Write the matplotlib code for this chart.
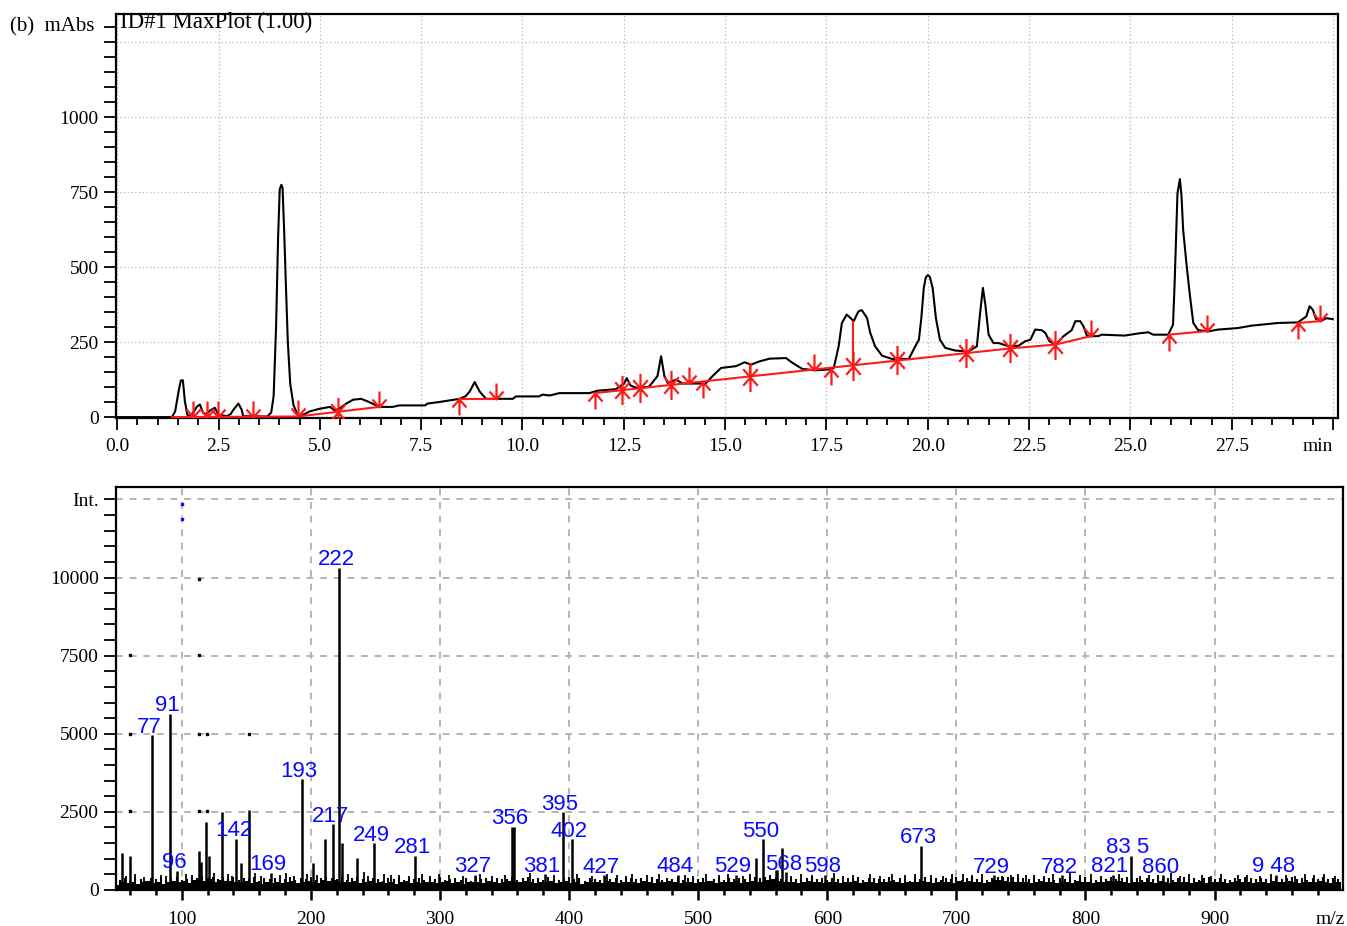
import numpy as np
import matplotlib
matplotlib.use("Agg")
import matplotlib.pyplot as plt
from matplotlib.path import Path
from matplotlib.ticker import FixedLocator, MultipleLocator

# ---- chromatogram (MaxPlot) ----
trace_t = [0.0, 1.35, 1.43, 1.52, 1.57, 1.62, 1.67, 1.73, 1.80, 1.90, 1.96, 2.04, 2.12,
           2.20, 2.29, 2.41, 2.50, 2.70, 2.80, 2.87, 2.99, 3.07, 3.11, 3.70, 3.80, 3.86,
           3.92, 3.97, 4.01, 4.05, 4.08, 4.12, 4.16, 4.21, 4.27, 4.35, 4.45, 4.55, 4.75,
           5.00, 5.25, 5.37, 5.50, 5.65, 5.82, 6.02, 6.22, 6.47, 6.80, 6.96, 7.60, 7.65,
           7.93, 8.45, 8.60, 8.70, 8.82, 8.94, 9.10, 9.76, 9.84, 10.40, 10.50, 10.67,
           10.91, 11.65, 11.85, 12.30, 12.51, 12.57, 12.67, 12.80, 13.12, 13.33, 13.42,
           13.50, 13.58, 13.79, 13.95, 14.52, 14.69, 14.90, 15.27, 15.48, 15.64, 15.85,
           16.10, 16.50, 16.66, 16.90, 17.23, 17.56, 17.68, 17.80, 17.88, 18.00, 18.09,
           18.17, 18.29, 18.37, 18.50, 18.58, 18.70, 18.87, 19.12, 19.53, 19.69, 19.78,
           19.84, 19.90, 19.95, 20.00, 20.05, 20.12, 20.20, 20.30, 20.43, 20.68, 21.00,
           21.21, 21.29, 21.36, 21.42, 21.50, 21.62, 21.75, 22.00, 22.24, 22.40, 22.53,
           22.65, 22.81, 22.90, 23.00, 23.15, 23.35, 23.55, 23.64, 23.76, 23.84, 23.93,
           24.20, 24.29, 24.86, 25.19, 25.44, 25.56, 25.93, 26.05, 26.09, 26.16, 26.22,
           26.26, 26.30, 26.38, 26.46, 26.55, 26.67, 26.92, 27.16, 27.65, 27.98, 28.64,
           29.13, 29.34, 29.42, 29.50, 29.58, 29.71, 29.83, 29.99]
trace_v = [0, 0, 19, 90, 122, 123, 53, 8, 2, 20, 34, 42, 14,
           10, 22, 31, 8, 3, 10, 25, 45, 25, 3, 2, 15, 70,
           300, 600, 760, 775, 765, 620, 450, 250, 110, 40, 8, 5, 19,
           28, 34, 22, 30, 45, 58, 61, 50, 34, 34, 39, 39, 45,
           50, 61, 70, 86, 117, 86, 61, 61, 69, 69, 75, 72,
           80, 80, 88, 93, 112, 130, 105, 98, 101, 137, 203,
           137, 114, 125, 112, 112, 137, 164, 170, 183, 175, 186,
           195, 197, 181, 161, 156, 159, 164, 236, 314, 342, 331,
           320, 353, 357, 331, 281, 236, 205, 194, 194, 236, 258,
           330, 430, 466, 474, 468, 430, 330, 258, 231, 222, 219,
           236, 347, 431, 375, 275, 247, 247, 236, 238, 253, 258,
           292, 290, 281, 253, 242, 270, 290, 320, 320, 303, 270,
           270, 275, 272, 279, 283, 275, 275, 308, 447, 747, 794,
           737, 625, 514, 414, 314, 290, 286, 292, 297, 305, 314,
           316, 336, 370, 358, 327, 321, 330, 327]

# integration baselines (red)
base_segments = [
    ([1.35, 4.46, 6.46], [0, 2, 34]),
    ([8.43, 9.35], [62, 62]),
    ([11.78, 22.02, 23.15, 24.02], [80, 229, 242, 270]),
    ([25.94, 26.90], [275, 287]),
    ([29.13, 29.67], [314, 320]),
]
drop_t = [15.62, 18.15]
drop_lo = [135, 170]
drop_hi = [175, 320]

# peak start / end marks
end_t = [1.88, 2.22, 2.49, 3.36, 4.46, 6.46, 9.35, 14.10, 17.20, 24.02, 26.90, 29.67]
end_v = [0, 0, 0, 0, 2, 34, 62, 115, 156, 270, 287, 320]
start_t = [8.43, 11.78, 14.45, 17.62, 25.94, 29.13]
start_v = [62, 80, 118, 160, 275, 314]
both_t = [5.45, 12.46, 12.89, 13.66, 15.62, 18.15, 19.24, 20.94, 22.02, 23.15]
both_v = [18, 90, 96, 107, 135, 170, 189, 213, 229, 242]

# ---- mass spectrum ----
label_mz = [77, 91, 96, 142, 169, 193, 217, 222, 249, 281, 327, 356, 381, 395,
            402, 427, 484, 529, 550, 568, 598, 673, 729, 782, 821, 835, 860, 948]
label_int = [4950, 5640, 620, 1640, 555, 3550, 2100, 10320, 1500, 1090, 480, 2030,
             510, 2490, 1620, 470, 480, 480, 1620, 560, 480, 1410, 470, 470, 480,
             1090, 470, 480]
label_txt = ["77", "91", "96", "142", "169", "193", "217", "222", "249", "281", "327",
             "356", "381", "395", "402", "427", "484", "529", "550", "568", "598",
             "673", "729", "782", "821", "83 5", "860", "9 48"]

other_mz = [54, 60, 113, 115, 119, 121, 131, 146, 152, 202, 211, 224, 236, 357,
            545, 560, 561, 565]
other_int = [1185, 1100, 1250, 880, 2180, 1080, 2490, 870, 2550, 870, 1640, 1500,
             1015, 2030, 1015, 640, 640, 1335]

# solid noise floor, one value per 4 m/z from 50
noise_floor = [
    160, 240, 210, 260, 180, 250, 290, 230, 270, 200, 260, 300, 240, 280, 220, 310, 330, 290, 350, 270,
    320, 280, 300, 260, 240, 290, 220, 250, 200, 270, 230, 260, 210, 240, 280, 230, 260, 300, 250, 220,
    310, 280, 330, 260, 240, 270, 300, 220, 250, 280, 210, 260, 230, 270, 200, 250, 280, 230, 260, 210,
    240, 270, 220, 260, 290, 230, 250, 200, 270, 240, 260, 220, 280, 250, 230, 270, 300, 260, 240, 280,
    250, 220, 270, 240, 290, 230, 260, 280, 220, 250, 200, 270, 240, 260, 230, 280, 250, 210, 270, 240,
    260, 220, 280, 250, 230, 270, 240, 290, 260, 220, 250, 270, 230, 260, 240, 280, 220, 250, 270, 240,
    280, 230, 260, 300, 250, 270, 330, 360, 300, 260, 240, 270, 220, 250, 290, 240, 260, 230, 270, 250,
    220, 260, 240, 280, 230, 250, 270, 220, 260, 240, 290, 250, 230, 270, 240, 260, 300, 250, 230, 270,
    240, 260, 220, 280, 250, 300, 240, 270, 230, 260, 310, 320, 300, 250, 270, 240, 260, 220, 250, 280,
    240, 260, 220, 270, 250, 230, 280, 240, 260, 220, 270, 250, 280, 240, 290, 260, 230, 270, 250, 240,
    260, 230, 280, 250, 220, 270, 240, 260, 230, 250, 280, 220, 260, 240, 270, 230, 250, 280, 240, 260,
    230, 270, 250, 220, 280, 240, 260, 290, 250, 230, 270, 240, 260, 280, 250, 230, 270, 240,
]
noise_mz = np.arange(50, 50 + 4 * len(noise_floor), 4)

# comb of thin noise lines, one per 4 m/z from 52
comb_int = [
    330, 380, 300, 410, 350, 290, 390, 340, 420, 310, 370, 400, 330, 360, 420, 380, 440, 390, 410, 350,
    400, 360, 430, 320, 380, 350, 410, 300, 370, 340, 390, 320, 360, 410, 330, 380, 350, 400, 310, 370,
    420, 390, 360, 400, 330, 380, 410, 350, 320, 390, 360, 300, 380, 340, 410, 320, 370, 350, 390, 330,
    380, 340, 400, 310, 360, 390, 330, 370, 300, 410, 350, 380, 320, 390, 360, 340, 400, 330, 370, 410,
    360, 390, 330, 400, 350, 310, 380, 420, 340, 370, 300, 390, 360, 330, 400, 350, 380, 320, 370, 390,
    340, 380, 310, 400, 360, 330, 390, 350, 410, 320, 370, 390, 340, 380, 300, 360, 400, 330, 370, 350,
    390, 340, 370, 410, 380, 420, 450, 400, 360, 330, 390, 350, 310, 380, 400, 340, 370, 320, 390, 360,
    330, 380, 350, 400, 310, 370, 390, 340, 360, 410, 330, 380, 350, 300, 390, 360, 410, 340, 370, 330,
    380, 350, 400, 330, 370, 410, 360, 390, 320, 380, 420, 410, 430, 400, 420, 390, 350, 380, 340, 370,
    390, 330, 370, 350, 400, 320, 380, 410, 350, 330, 390, 360, 420, 340, 380, 400, 350, 370, 330, 390,
    360, 400, 340, 380, 310, 370, 410, 350, 390, 330, 370, 400, 340, 380, 360, 320, 390, 350, 410, 370,
    340, 390, 360, 320, 400, 350, 380, 410, 340, 370, 330, 390, 360, 400, 340, 380, 350,
]
comb_mz = np.arange(52, 52 + 4 * len(comb_int), 4)

spike_mz = [57, 64, 71, 84, 88, 103, 108, 125, 136, 139, 157, 161, 176, 181, 187, 197,
            205, 229, 241, 244, 257, 262, 268, 276, 286, 292, 299, 307, 318, 331, 340,
            350, 370, 388, 406, 418, 429, 437, 444, 449, 460, 470, 490, 496, 506, 516,
            523, 535, 540, 556, 572, 580, 588, 605, 612, 620, 633, 641, 650, 660, 668,
            680, 690, 697, 705, 712, 720, 735, 742, 748, 754, 760, 768, 775, 788, 796,
            804, 812, 826, 842, 849, 856, 866, 873, 880, 890, 897, 905, 918, 925, 935,
            944, 955, 962, 970, 977, 985, 993]
spike_int = [460, 500, 430, 480, 440, 510, 470, 550, 500, 460, 530, 440, 480, 550, 460, 510,
             470, 500, 560, 450, 510, 470, 490, 460, 500, 440, 520, 480, 460, 510, 450,
             490, 530, 470, 510, 460, 520, 480, 440, 500, 470, 510, 490, 450, 520, 470,
             500, 460, 520, 480, 460, 510, 470, 550, 460, 490, 520, 450, 500, 470, 510,
             480, 460, 500, 520, 470, 510, 460, 480, 500, 470, 490, 460, 510, 540, 470,
             500, 460, 520, 450, 490, 470, 530, 460, 500, 480, 450, 510, 470, 490, 460,
             510, 480, 460, 520, 470, 500, 460]

# odd single-pixel points seen on the plot
dot_mz = [113.2, 59.6, 113.2, 59.6, 113.2, 119.4, 151.9, 59.6, 113.2, 119.4]
dot_int = [9970, 7530, 7530, 5000, 5000, 5000, 5000, 2530, 2530, 2530]
blue_dot_mz = [100, 100]
blue_dot_int = [12370, 11890]

SERIF = ["Liberation Serif", "DejaVu Serif"]
SANS = ["Liberation Sans", "DejaVu Sans"]
RED = "#ff1a1a"
BLUE = "#0a0aff"

fig = plt.figure(figsize=(13.47, 9.26), dpi=100)
ax1 = fig.add_axes([0.0861, 0.5486, 0.9072, 0.4363])
ax2 = fig.add_axes([0.0861, 0.0389, 0.9109, 0.4352])

# arrow shaped marks: tip sits on the point
down_arrow = Path([(0, 16), (0, 0), (-7, 8), (0, 0), (7, 8)],
                  [Path.MOVETO, Path.LINETO, Path.MOVETO, Path.LINETO, Path.LINETO])
up_arrow = Path([(0, -16), (0, 0), (-7, -8), (0, 0), (7, -8)],
                [Path.MOVETO, Path.LINETO, Path.MOVETO, Path.LINETO, Path.LINETO])
star = Path([(0, 14), (0, -14), (-7, 8), (0, 0), (7, 8), (-7, -8), (0, 0), (7, -8)],
            [Path.MOVETO, Path.LINETO, Path.MOVETO, Path.LINETO, Path.LINETO,
             Path.MOVETO, Path.LINETO, Path.LINETO])

# ---------- top: chromatogram ----------
ax1.plot(trace_t, trace_v, color="black", lw=1.5, zorder=3)
for seg_t, seg_v in base_segments:
    ax1.plot(seg_t, seg_v, color=RED, lw=1.5, zorder=4)
ax1.vlines(drop_t, drop_lo, drop_hi, color=RED, lw=1.5, zorder=4)
mk = dict(ls="none", mfc="none", mec=RED, mew=1.6, zorder=5)
ax1.plot(end_t, end_v, marker=down_arrow, ms=23, **mk)
ax1.plot(start_t, start_v, marker=up_arrow, ms=23, **mk)
ax1.plot(both_t, both_v, marker=star, ms=21, **mk)

ax1.set_xlim(-0.03, 30.12)
ax1.set_ylim(-3, 1345)
xt = np.arange(0, 30.01, 2.5)
ax1.xaxis.set_major_locator(FixedLocator(xt))
ax1.set_xticklabels([f"{v:.1f}" for v in xt[:-1]] + ["min"])
ax1.xaxis.set_minor_locator(MultipleLocator(0.5))
yt = [0, 250, 500, 750, 1000, 1250]
ax1.yaxis.set_major_locator(FixedLocator(yt))
ax1.set_yticklabels(["0", "250", "500", "750", "1000", ""])
ax1.yaxis.set_minor_locator(MultipleLocator(50))
ax1.grid(True, which="major", ls=(0, (1, 2)), color="#b8b8b8", lw=0.9, zorder=0)
ax1.tick_params(axis="x", which="major", length=8.5, width=1.3, pad=6)
ax1.tick_params(axis="x", which="minor", length=5, width=1.3)
ax1.tick_params(axis="y", which="both", length=8.5, width=1.3, pad=4)
ax1.text(0.003, 0.966, "ID#1 MaxPlot (1.00)", transform=ax1.transAxes,
         family=SERIF, fontsize=16.5, va="baseline", ha="left")
fig.text(10 / 1347, 1 - 31 / 926, "(b)  mAbs", family=SERIF, fontsize=15,
         va="baseline", ha="left")

# ---------- bottom: mass spectrum ----------
ax2.fill_between(noise_mz, 0, noise_floor, step="mid", color="black", lw=0, zorder=3)
ax2.vlines(comb_mz, 0, comb_int, color="black", lw=1.5, zorder=3)
ax2.vlines(spike_mz, 0, spike_int, color="black", lw=1.3, zorder=3)
ax2.vlines(other_mz, 0, other_int, color="black", lw=1.8, zorder=3)
ax2.vlines(label_mz, 0, label_int, color="black", lw=1.8, zorder=3)
for mz, inten, txt in zip(label_mz, label_int, label_txt):
    ax2.text(mz - 2, inten + 80, txt, color=BLUE, family=SANS, fontsize=16,
             ha="center", va="baseline", zorder=4)
ax2.plot(dot_mz, dot_int, ls="none", marker="s", ms=1.6, color="black", zorder=4)
ax2.plot(blue_dot_mz, blue_dot_int, ls="none", marker="s", ms=2, color=BLUE, zorder=4)

ax2.set_xlim(49, 999.5)
ax2.set_ylim(0, 12900)
ax2.xaxis.set_major_locator(MultipleLocator(100))
ax2.xaxis.set_minor_locator(MultipleLocator(20))
ax2.yaxis.set_major_locator(FixedLocator([0, 2500, 5000, 7500, 10000, 12500]))
ax2.set_yticklabels(["0", "2500", "5000", "7500", "10000", "Int."])
ax2.yaxis.set_minor_locator(MultipleLocator(500))
ax2.grid(True, which="major", ls=(0, (3.5, 3.5)), color="#b4b4b4", lw=1.4, zorder=0)
ax2.tick_params(axis="x", which="major", length=7, width=1.8, pad=8)
ax2.tick_params(axis="x", which="minor", length=3.5, width=1.8)
ax2.tick_params(axis="y", which="both", length=8.5, width=1.3, pad=4)
fig.text(1330 / 1347, 1 - 924 / 926, "m/z", family=SERIF, fontsize=14,
         ha="center", va="baseline")

for ax in (ax1, ax2):
    for sp in ax.spines.values():
        sp.set_linewidth(1.6)
    for lab in ax.get_xticklabels() + ax.get_yticklabels():
        lab.set_family(SERIF)
        lab.set_fontsize(14)

# the last time label ends at its tick
ax1.get_xticklabels()[-1].set_horizontalalignment("right")

fig.savefig("out.png", dpi=100)
